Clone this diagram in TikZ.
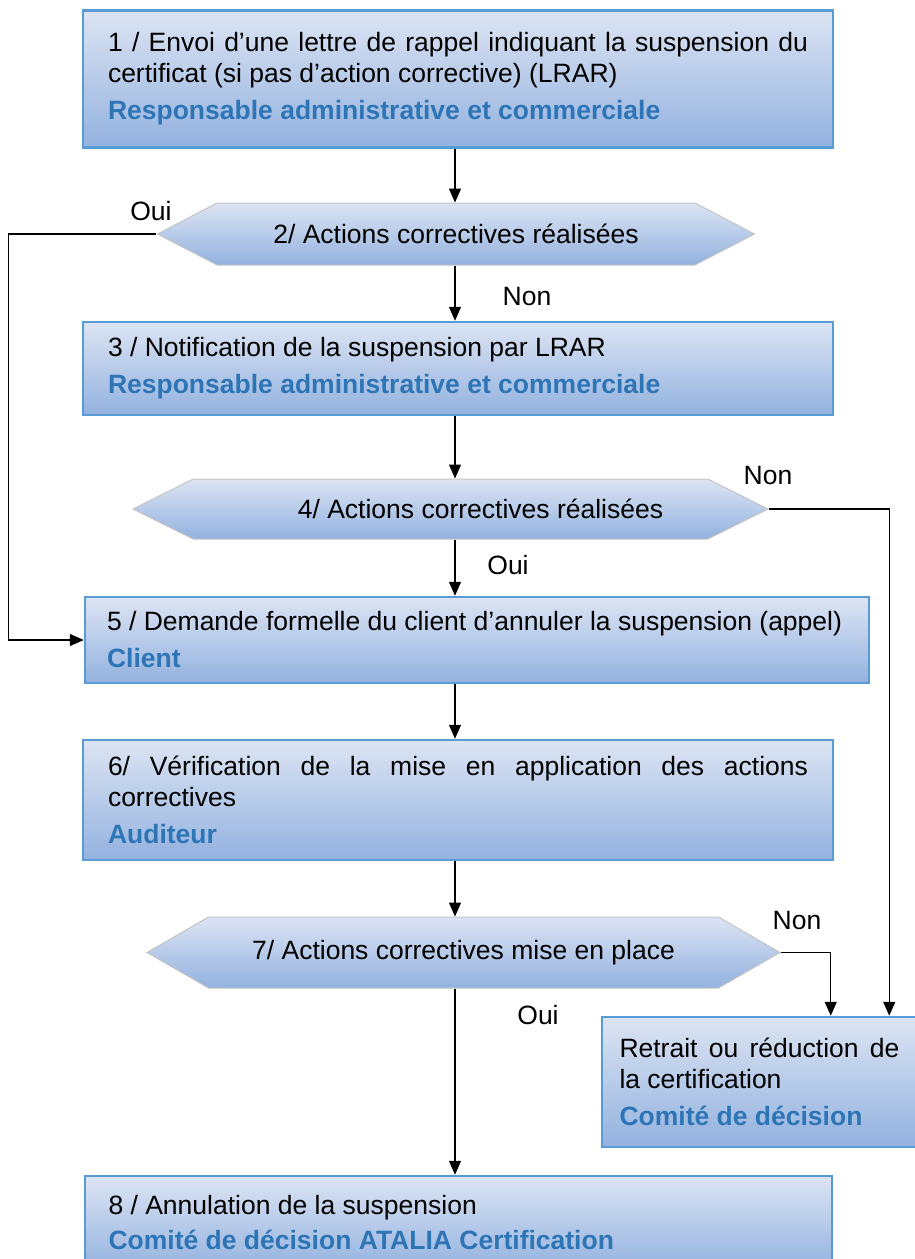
\documentclass[tikz,border=0pt]{standalone}
\usepackage{fontspec}
\setmainfont{Liberation Sans}
\usetikzlibrary{arrows.meta,calc,shapes.symbols}
\definecolor{boxtop}{HTML}{DCE4F3}
\definecolor{boxbot}{HTML}{93B2DF}
\definecolor{boxline}{HTML}{5B9BD5}
\definecolor{hexline}{HTML}{C4C4C4}
\definecolor{roleblue}{HTML}{2E75B6}
\newcommand{\rolename}[1]{\textbf{\color{roleblue}#1}}

\begin{document}
\begin{tikzpicture}[x=1pt,y=-1pt,font=\fontsize{26.5}{31}\selectfont,
  box/.style={rectangle,draw=boxline,line width=2.5pt,top color=boxtop,bottom color=boxbot,align=justify,inner ysep=0pt},
  decision/.style={signal,signal to=east and west,draw=hexline,line width=1pt,top color=boxtop,bottom color=boxbot,inner sep=0pt},
  flow/.style={line width=1.3pt,-{Triangle[width=12pt,length=14pt]}}]
  \path[use as bounding box,clip] (0,0) rectangle (915,1259);
  \coordinate (axis) at (455,0);
  \node[box,text width=700pt,inner xsep=25pt,minimum height=137pt] (b1) at (458,79) {1 / Envoi d’une lettre de rappel indiquant la suspension du\linebreak certificat (si pas d’action corrective) (LRAR)\\[6pt]\rolename{Responsable administrative et commerciale}};
  \node[decision,signal pointer angle=55,minimum width=597pt,minimum height=62pt] (d2) at (456,234) {2/ Actions correctives réalisées};
  \node[box,text width=700pt,inner xsep=25pt,minimum height=93pt] (b3) at (458,368.5) {3 / Notification de la suspension par LRAR\\[6pt]\rolename{Responsable administrative et commerciale}};
  \node[decision,signal pointer angle=53,minimum width=635pt,minimum height=60pt] (d4) at (450.5,509) {\hspace*{60pt}4/ Actions correctives réalisées};
  \node[box,text width=740pt,inner xsep=22pt,minimum height=86pt] (b5) at (477,640) {5 / Demande formelle du client d’annuler la suspension (appel)\\[6pt]\rolename{Client}};
  \node[box,text width=700pt,inner xsep=25pt,minimum height=120pt] (b6) at (458,800) {6/ Vérification de la mise en application des actions\linebreak correctives\\[6pt]\rolename{Auditeur}};
  \node[decision,signal pointer angle=60,minimum width=633pt,minimum height=71pt] (d7) at (463.5,952.5) {7/ Actions correctives mise en place};
  \node[box,text width=280pt,inner xsep=17.5pt,minimum height=130pt] (b7) at (759.5,1082) {Retrait ou réduction de\linebreak la certification\\[6pt]\rolename{Comité de décision}};
  \node[box,text width=700pt,inner xsep=23.5pt,minimum height=94pt] (b8) at (458.5,1223) {8 / Annulation de la suspension\\[4pt]\rolename{Comité de décision ATALIA Certification}};

  \node (oui2) at (151,211) {Oui};
  \node (non2) at (527,297) {Non};
  \node (non4) at (768,476) {Non};
  \node (oui4) at (508,565) {Oui};
  \node (non7) at (797,920) {Non};
  \node (oui7) at (538,1015) {Oui};

  \draw[flow] (b1.south -| axis) -- (d2.north -| axis);
  \draw[flow] (d2.south -| axis) -- (b3.north -| axis);
  \draw[flow] (b3.south -| axis) -- (d4.north -| axis);
  \draw[flow] (d4.south -| axis) -- (b5.north -| axis);
  \draw[flow] (b5.south -| axis) -- (b6.north -| axis);
  \draw[flow] (b6.south -| axis) -- (d7.north -| axis);
  \draw[flow] (d7.south -| axis) -- (b8.north -| axis);
  \draw[flow] (d2.west) -- ++(-148,0) |- (b5.west);
  \draw[flow] (d4.east) -| ($(b7.north east)+(-29,0)$);
  \draw[flow] (d7.east) -| ($(b7.north west)+(230,0)$);
\end{tikzpicture}
\end{document}
